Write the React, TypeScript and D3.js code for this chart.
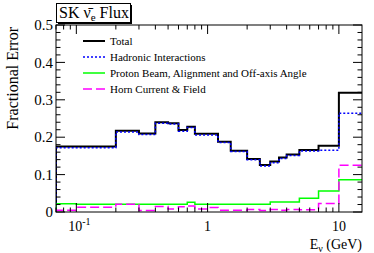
import { useEffect, useRef } from 'react';
import * as d3 from 'd3';

// bin edges in GeV
const binEdges = [0, 0.1, 0.2, 0.3, 0.4, 0.5, 0.6, 0.7, 0.8, 1.0, 1.2, 1.5, 2.0, 2.5, 3.0, 3.5, 4.0, 5.0, 7.0, 10.0, 30.0];

const totalErr = [0.175, 0.175, 0.217, 0.210, 0.240, 0.237, 0.219, 0.228, 0.209, 0.209, 0.188, 0.164, 0.142, 0.126, 0.135, 0.146, 0.154, 0.166, 0.177, 0.319];
const hadronicErr = [0.172, 0.172, 0.214, 0.207, 0.237, 0.235, 0.216, 0.226, 0.206, 0.206, 0.186, 0.162, 0.140, 0.123, 0.132, 0.143, 0.151, 0.163, 0.165, 0.264];
const protonErr = [0.022, 0.021, 0.021, 0.021, 0.021, 0.021, 0.021, 0.026, 0.021, 0.021, 0.021, 0.021, 0.021, 0.021, 0.027, 0.027, 0.027, 0.037, 0.056, 0.086];
const hornErr = [0.005, 0.013, 0.021, 0.004, 0.015, 0.008, 0.014, 0.016, 0.008, 0.012, 0.005, 0.005, 0.007, 0.004, 0.007, 0.005, 0.007, 0.006, 0.023, 0.125];

const legendLabels = ['Total', 'Hadronic Interactions', 'Proton Beam, Alignment and Off-axis Angle', 'Horn Current & Field'];
const yTicks = [0, 0.1, 0.2, 0.3, 0.4, 0.5];

const W = 374;
const H = 253;
const FONT = 'Liberation Serif, DejaVu Serif, serif';

export default function App() {
  const svgRef = useRef<SVGSVGElement>(null);

  useEffect(() => {
    if (!svgRef.current) return;
    const svg = d3.select(svgRef.current);
    svg.selectAll('*').remove();

    const margin = { top: 25, right: 12, bottom: 41, left: 56 };
    const width = W - margin.left - margin.right;
    const height = H - margin.top - margin.bottom;

    const x = d3.scaleLog().domain([0.07, 15]).range([0, width]);
    const y = d3.scaleLinear().domain([0, 0.5]).range([height, 0]);

    svg.append('rect').attr('width', W).attr('height', H).attr('fill', 'white');

    const g = svg.append('g').attr('transform', `translate(${margin.left},${margin.top})`);

    svg.append('defs').append('clipPath').attr('id', 'plotclip')
      .append('rect').attr('x', 0).attr('y', -2).attr('width', width).attr('height', height + 2);

    // step path for a histogram
    const histPath = (vals: number[]) => {
      const p = d3.path();
      const x0 = x(Math.max(binEdges[0], 0.07));
      p.moveTo(x0, y(0));
      vals.forEach((v, i) => {
        const lo = x(Math.max(binEdges[i], 0.07));
        const hi = x(binEdges[i + 1]);
        p.lineTo(lo, y(v));
        p.lineTo(hi, y(v));
      });
      return p.toString();
    };

    const series = [
      { vals: totalErr, color: '#000000', width: 2, dash: null as string | null },
      { vals: hadronicErr, color: '#0000ff', width: 1.5, dash: '2,2' },
      { vals: protonErr, color: '#00ff00', width: 1.5, dash: null },
      { vals: hornErr, color: '#ff00ff', width: 1.5, dash: '9,4' },
    ];

    const plot = g.append('g').attr('clip-path', 'url(#plotclip)');
    series.forEach(s => {
      const path = plot.append('path')
        .attr('d', histPath(s.vals))
        .attr('fill', 'none')
        .attr('stroke', s.color)
        .attr('stroke-width', s.width);
      if (s.dash) path.attr('stroke-dasharray', s.dash);
    });

    // frame
    g.append('rect')
      .attr('x', 0).attr('y', 0).attr('width', width).attr('height', height)
      .attr('fill', 'none').attr('stroke', '#000').attr('stroke-width', 1);

    // y ticks (inside, both sides)
    const yMinor = d3.range(0, 0.5001, 0.02);
    yMinor.forEach(v => {
      const isMajor = Math.abs(v * 10 - Math.round(v * 10)) < 1e-6;
      const len = isMajor ? 9 : 4.5;
      g.append('line').attr('x1', 0).attr('x2', len).attr('y1', y(v)).attr('y2', y(v)).attr('stroke', '#000');
      g.append('line').attr('x1', width).attr('x2', width - len).attr('y1', y(v)).attr('y2', y(v)).attr('stroke', '#000');
    });
    yTicks.forEach(v => {
      g.append('text')
        .attr('x', -3).attr('y', y(v)).attr('dy', '0.35em')
        .attr('text-anchor', 'end')
        .attr('font-family', FONT).attr('font-size', 15)
        .text(v === 0 ? '0' : d3.format('.1f')(v));
    });

    // x ticks (log, inside, both sides)
    const xTickVals: number[] = [];
    [0.01, 0.1, 1, 10].forEach(dec => {
      for (let k = 1; k <= 9; k++) {
        const v = dec * k;
        if (v >= 0.07 && v <= 15) xTickVals.push(v);
      }
    });
    xTickVals.forEach(v => {
      const isMajor = Math.abs(Math.log10(v) - Math.round(Math.log10(v))) < 1e-6;
      const len = isMajor ? 9 : 4.5;
      g.append('line').attr('x1', x(v)).attr('x2', x(v)).attr('y1', height).attr('y2', height - len).attr('stroke', '#000');
      g.append('line').attr('x1', x(v)).attr('x2', x(v)).attr('y1', 0).attr('y2', len).attr('stroke', '#000');
    });

    const xLab = (v: number, main: string, sup?: string) => {
      const t = g.append('text')
        .attr('x', x(v) + (sup ? 3 : 0)).attr('y', height + 19)
        .attr('text-anchor', 'middle')
        .attr('font-family', FONT).attr('font-size', 14);
      t.append('tspan').text(main);
      if (sup) t.append('tspan').attr('dy', -6).attr('font-size', 10).text(sup);
    };
    xLab(0.1, '10', '-1');
    xLab(1, '1');
    xLab(10, '10');

    // x title
    const xt = svg.append('text')
      .attr('x', margin.left + width).attr('y', H - 4)
      .attr('text-anchor', 'end')
      .attr('font-family', FONT).attr('font-size', 14);
    xt.append('tspan').text('E');
    xt.append('tspan').attr('dy', 3).attr('font-size', 10).text('ν');
    xt.append('tspan').attr('dy', -3).text(' (GeV)');

    // y title
    svg.append('text')
      .attr('transform', `translate(18,${margin.top + 2}) rotate(-90)`)
      .attr('text-anchor', 'end')
      .attr('font-family', FONT).attr('font-size', 16)
      .text('Fractional Error');

    // legend
    const legend = g.append('g').attr('transform', `translate(27, 16)`);
    legendLabels.forEach((lab, i) => {
      const s = series[i];
      const ly = i * 16;
      const ln = legend.append('line')
        .attr('x1', 0).attr('x2', 22).attr('y1', ly).attr('y2', ly)
        .attr('stroke', s.color).attr('stroke-width', s.width);
      if (s.dash) ln.attr('stroke-dasharray', s.dash);
      legend.append('text')
        .attr('x', 27).attr('y', ly).attr('dy', '0.35em')
        .attr('font-family', FONT).attr('font-size', 11)
        .text(lab);
    });

    // title box
    const tb = svg.append('g');
    tb.append('rect').attr('x', 58).attr('y', 5).attr('width', 74).attr('height', 19).attr('fill', '#000');
    tb.append('rect').attr('x', 56.5).attr('y', 3.5).attr('width', 74).attr('height', 19)
      .attr('fill', 'white').attr('stroke', '#000').attr('stroke-width', 1);
    const tt = tb.append('text')
      .attr('x', 59).attr('y', 18)
      .attr('font-family', FONT).attr('font-size', 16);
    tt.append('tspan').text('SK \u03bd\u0304');
    tt.append('tspan').attr('dy', 3).attr('font-size', 11).text('e');
    tt.append('tspan').attr('dy', -3).text(' Flux');
  }, []);

  return (
    <div style={{ position: 'fixed', left: 0, top: 0 }}>
      <svg ref={svgRef} width={W} height={H} style={{ display: 'block' }} />
    </div>
  );
}
